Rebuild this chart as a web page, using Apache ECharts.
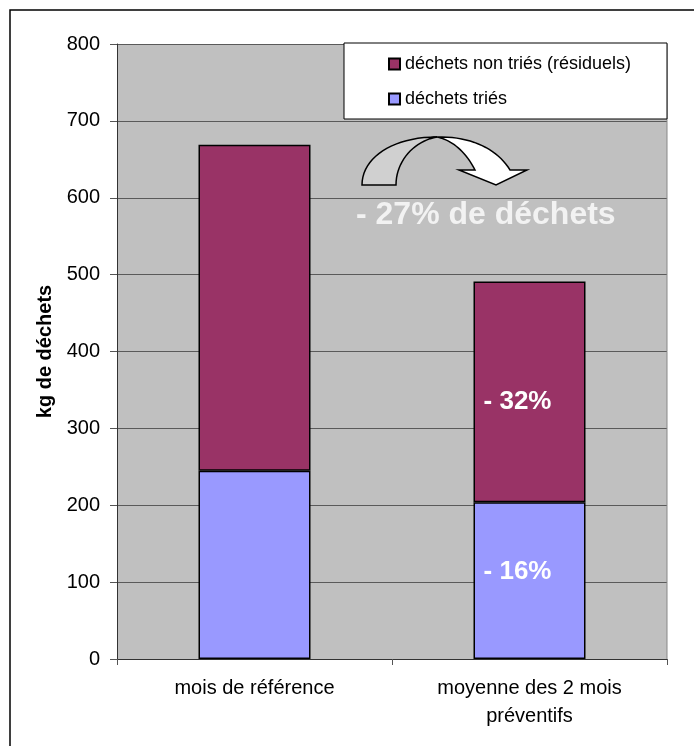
<!DOCTYPE html>
<html>
<head>
<meta charset="utf-8">
<script src="https://cdn.jsdelivr.net/npm/echarts@6/dist/echarts.min.js"></script>
<style>
  html, body { margin: 0; padding: 0; background: #fff; }
  #chart { width: 694px; height: 746px; }
</style>
</head>
<body>
<div id="chart"></div>
<script>
  // données
  var categories = ['mois de référence', 'moyenne des 2 mois\npréventifs'];
  var dechetsTries = [245, 204];
  var dechetsNonTries = [424, 287];
  var labelsTries = ['', '- 16%'];
  var labelsNonTries = ['', '- 32%'];
  var yTicks = [0, 100, 200, 300, 400, 500, 600, 700, 800];

  var font = 'Liberation Sans, Arial, sans-serif';

  function withLabels(values, labels) {
    return values.map(function (v, i) {
      return {
        value: v,
        label: { show: labels[i] !== '', formatter: labels[i] }
      };
    });
  }

  // échantillonne une courbe de Bézier cubique (pour la flèche décorative)
  function bez(p0, p1, p2, p3) {
    var pts = [];
    for (var i = 0; i <= 20; i++) {
      var t = i / 20, u = 1 - t;
      pts.push([
        u * u * u * p0[0] + 3 * u * u * t * p1[0] + 3 * u * t * t * p2[0] + t * t * t * p3[0],
        u * u * u * p0[1] + 3 * u * u * t * p1[1] + 3 * u * t * t * p2[1] + t * t * t * p3[1]
      ]);
    }
    return pts;
  }

  var greyPart = bez([362, 185], [362, 158], [392, 137], [437, 137])
    .concat(bez([437, 137], [414, 141], [396, 161], [396, 185]));
  var whitePart = bez([437, 137], [472, 136], [498, 150], [510, 170])
    .concat([[527, 170], [496, 185], [459, 170]])
    .concat(bez([475, 170], [466, 152], [452, 140], [437, 137]));

  function segLabel(offset) {
    return {
      position: 'inside',
      offset: offset,
      color: '#fff',
      fontWeight: 'bold',
      fontSize: 26,
      fontFamily: font
    };
  }

  var chart = echarts.init(document.getElementById('chart'));
  var option = {
    backgroundColor: '#fff',
    animation: false,
    grid: {
      left: 117,
      right: 27,
      top: 44,
      bottom: 87,
      show: true,
      backgroundColor: '#c0c0c0',
      borderWidth: 0
    },
    legend: {
      z: 10,
      orient: 'vertical',
      left: 383,
      top: 50,
      icon: 'rect',
      itemWidth: 11,
      itemHeight: 11,
      itemGap: 17,
      data: ['déchets non triés (résiduels)', 'déchets triés'],
      textStyle: { fontFamily: font, fontSize: 18, color: '#000', padding: [0, 0, 0, 0] }
    },
    xAxis: {
      type: 'category',
      data: categories,
      axisLine: { lineStyle: { color: '#333', width: 1 } },
      axisTick: { show: true, length: 6, lineStyle: { color: '#555' } },
      axisLabel: {
        margin: 15,
        fontFamily: font,
        fontSize: 20,
        color: '#000',
        lineHeight: 28
      }
    },
    yAxis: {
      type: 'value',
      min: yTicks[0],
      max: yTicks[yTicks.length - 1],
      interval: 100,
      name: 'kg de déchets',
      nameLocation: 'middle',
      nameGap: 62,
      nameTextStyle: { fontFamily: font, fontSize: 20, fontWeight: 'bold', color: '#000' },
      axisLine: { show: true, lineStyle: { color: '#333', width: 1 } },
      axisTick: { show: true, length: 7, lineStyle: { color: '#555' } },
      axisLabel: { margin: 17, fontFamily: font, fontSize: 20, color: '#000' },
      splitLine: { show: true, lineStyle: { color: '#5a5a5a', width: 1 } }
    },
    series: [
      {
        name: 'déchets triés',
        type: 'bar',
        stack: 'total',
        barWidth: 112,
        itemStyle: { color: '#9999ff', borderColor: '#000', borderWidth: 1.5 },
        label: segLabel([-12, -9]),
        data: withLabels(dechetsTries, labelsTries)
      },
      {
        name: 'déchets non triés (résiduels)',
        type: 'bar',
        stack: 'total',
        barWidth: 112,
        itemStyle: { color: '#993366', borderColor: '#000', borderWidth: 1.5 },
        label: segLabel([-12, 10]),
        data: withLabels(dechetsNonTries, labelsNonTries)
      }
    ],
    graphic: [
      // cadre extérieur
      {
        type: 'rect', z: 100,
        shape: { x: 10, y: 10, width: 720, height: 760 },
        style: { fill: 'none', stroke: '#000', lineWidth: 1.5 }
      },
      // bord droit du graphique
      {
        type: 'line', z: 3,
        shape: { x1: 667, y1: 44, x2: 667, y2: 659 },
        style: { stroke: '#888', lineWidth: 1 }
      },
      // cadre de la légende
      {
        type: 'rect', z: 3,
        shape: { x: 344, y: 43, width: 323, height: 76 },
        style: { fill: '#fff', stroke: '#000', lineWidth: 1 }
      },
      // flèche courbe
      {
        type: 'polygon', z: 20,
        shape: { points: greyPart },
        style: { fill: '#d0d0d0', stroke: '#000', lineWidth: 1.5 }
      },
      {
        type: 'polygon', z: 20,
        shape: { points: whitePart },
        style: { fill: '#fff', stroke: '#000', lineWidth: 1.5 }
      },
      {
        type: 'text', z: 20,
        left: 356, top: 199,
        style: {
          text: '- 27% de déchets',
          fill: '#f2f2f2',
          font: 'bold 32px ' + font
        }
      }
    ]
  };
  chart.setOption(option);
</script>
</body>
</html>
